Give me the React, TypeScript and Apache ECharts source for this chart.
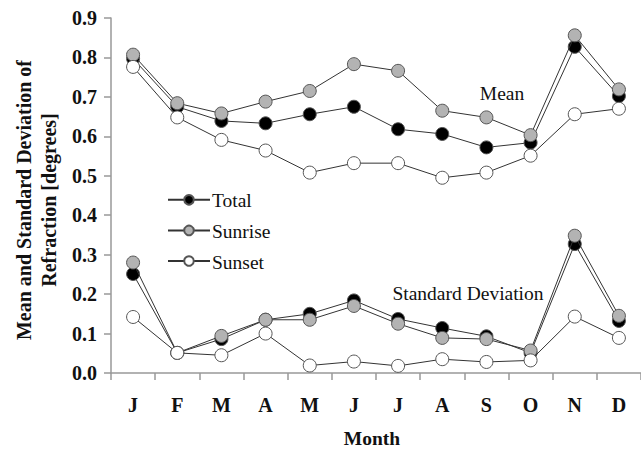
import React, { useEffect, useRef } from "react";
import * as echarts from "echarts";

const months = ["J", "F", "M", "A", "M", "J", "J", "A", "S", "O", "N", "D"];
const yTicks = [0, 0.1, 0.2, 0.3, 0.4, 0.5, 0.6, 0.7, 0.8, 0.9];
const legendNames = ["Total", "Sunrise", "Sunset"];

const totalMean = [0.797, 0.675, 0.639, 0.633, 0.656, 0.675, 0.618, 0.606, 0.572, 0.584, 0.827, 0.702];
const sunriseMean = [0.807, 0.684, 0.658, 0.688, 0.715, 0.783, 0.766, 0.665, 0.648, 0.603, 0.856, 0.719];
const sunsetMean = [0.776, 0.648, 0.591, 0.564, 0.508, 0.532, 0.532, 0.495, 0.508, 0.551, 0.656, 0.67];

const totalStd = [0.251, 0.051, 0.086, 0.135, 0.15, 0.184, 0.137, 0.114, 0.093, 0.051, 0.327, 0.132];
const sunriseStd = [0.28, 0.051, 0.094, 0.135, 0.135, 0.17, 0.125, 0.089, 0.086, 0.057, 0.348, 0.145];
const sunsetStd = [0.142, 0.051, 0.045, 0.1, 0.019, 0.029, 0.018, 0.035, 0.028, 0.032, 0.143, 0.089];

const FONT = "Liberation Serif";

const styles: Record<string, string> = {
  Total: "#000000",
  Sunrise: "#b3b3b3",
  Sunset: "#ffffff",
};

const LEG_TOP = 194;
const LEG_STEP = 31;

function mk(name: string, data: number[], z: number) {
  return {
    name,
    type: "line",
    data,
    z,
    symbol: "circle",
    symbolSize: 13,
    lineStyle: { color: "#333", width: 1 },
    itemStyle: { color: styles[name], borderColor: "#555", borderWidth: 1 },
    emphasis: { disabled: true },
  };
}

export default function App() {
  const ref = useRef<HTMLDivElement>(null);
  useEffect(() => {
    if (!ref.current) return;
    const chart = echarts.init(ref.current, null, { renderer: "svg" });
    chart.setOption({
      animation: false,
      backgroundColor: "#ffffff",
      textStyle: { fontFamily: FONT },
      grid: { left: 111, top: 18, width: 537, height: 355 },
      legend: {
        data: legendNames,
        orient: "vertical",
        left: 167,
        top: LEG_TOP,
        padding: 0,
        itemWidth: 42,
        itemHeight: 12,
        itemGap: LEG_STEP - 12,
        formatter: () => "",
        textStyle: { fontSize: 10, lineHeight: 12 },
        selectedMode: false,
      },
      xAxis: {
        type: "category",
        data: months,
        boundaryGap: true,
        axisLine: { lineStyle: { color: "#999", width: 1.5 } },
        axisTick: { show: true, length: 7, lineStyle: { color: "#999", width: 1.5 } },
        axisLabel: { fontFamily: FONT, fontWeight: "bold", fontSize: 20, color: "#111", margin: 22 },
        splitLine: { show: false },
      },
      yAxis: {
        type: "value",
        min: 0,
        max: 0.9,
        interval: 0.1,
        axisLine: { show: true, lineStyle: { color: "#999", width: 1.5 } },
        axisTick: { show: true, length: 7, lineStyle: { color: "#999", width: 1.5 } },
        axisLabel: {
          fontFamily: FONT,
          fontWeight: "bold",
          fontSize: 20,
          color: "#111",
          margin: 14,
          formatter: (v: number) => {
            const t = yTicks.find((x) => Math.abs(x - v) < 1e-6);
            return (t !== undefined ? t : v).toFixed(1);
          },
        },
        splitLine: { show: false },
      },
      graphic: [
        {
          type: "text",
          x: 36,
          y: 200,
          rotation: Math.PI / 2,
          style: {
            text: "Mean and Standard Deviation of\nRefraction [degrees]",
            fontFamily: FONT,
            fontWeight: "bold",
            fontSize: 20,
            lineHeight: 25,
            fill: "#111",
            align: "center",
            verticalAlign: "middle",
          },
        },
        {
          type: "text",
          x: 372,
          y: 438,
          style: { text: "Month", fontFamily: FONT, fontWeight: "bold", fontSize: 19.5, fill: "#111", align: "center", verticalAlign: "middle" },
        },
        {
          type: "text",
          x: 502,
          y: 93,
          style: { text: "Mean", fontFamily: FONT, fontSize: 19.5, fill: "#111", align: "center", verticalAlign: "middle" },
        },
        {
          type: "text",
          x: 468,
          y: 293,
          style: { text: "Standard Deviation", fontFamily: FONT, fontSize: 19.5, fill: "#111", align: "center", verticalAlign: "middle" },
        },
        ...legendNames.map((n, i) => ({
          type: "text",
          x: 212,
          y: LEG_TOP + 6 + i * LEG_STEP,
          style: { text: n, fontFamily: FONT, fontSize: 19.5, fill: "#111", align: "left", verticalAlign: "middle" },
        })),
      ],
      series: [
        mk("Total", totalMean, 2),
        mk("Total", totalStd, 2),
        mk("Sunrise", sunriseMean, 3),
        mk("Sunrise", sunriseStd, 3),
        mk("Sunset", sunsetMean, 4),
        mk("Sunset", sunsetStd, 4),
      ],
    });
    return () => chart.dispose();
  }, []);
  return <div ref={ref} style={{ width: 641, height: 450, position: "absolute", left: 0, top: 0 }} />;
}
